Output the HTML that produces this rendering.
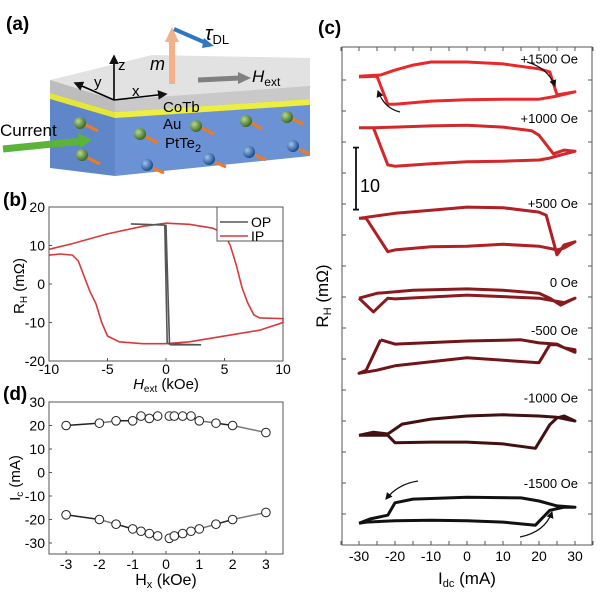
<!DOCTYPE html>
<html><head><meta charset="utf-8"><style>
body{margin:0;background:#fff;}
svg{display:block;font-family:"Liberation Sans",Arial,sans-serif;}
</style></head><body>
<svg id="fig" width="600" height="594" viewBox="0 0 600 594">
<defs>
<marker id="ah" markerWidth="6" markerHeight="6" refX="5" refY="3" orient="auto"><path d="M0,0 L6,3 L0,6 Z" fill="#111"/></marker>
<radialGradient id="gball" cx="35%" cy="35%" r="65%"><stop offset="0" stop-color="#b8d890"/><stop offset="1" stop-color="#3e6a22"/></radialGradient>
<radialGradient id="bball" cx="35%" cy="35%" r="65%"><stop offset="0" stop-color="#9ec4ef"/><stop offset="1" stop-color="#1d4d8c"/></radialGradient>
</defs>

<!-- Panel (a) -->
<g>
<text x="6" y="30" font-size="19" font-weight="bold">(a)</text>
<polygon points="50,80 115,100 115,176 50,168" fill="#5f86c9"/>
<polygon points="115,100 310,86 310,156 115,176" fill="#6b92d4"/>
<polygon points="50,80 115,100 115,112 50,93" fill="#bdbdbd"/>
<polygon points="115,100 310,86 310,99 115,112" fill="#c9c9c9"/>
<polygon points="50,93 115,112 115,118 50,99" fill="#e6e63a"/>
<polygon points="115,112 310,99 310,105 115,118" fill="#eeee40"/>
<polygon points="50,80 152,55 310,58 310,86 115,100" fill="#e2e2e2"/>
<g>
<circle cx="80" cy="123" r="6" fill="url(#gball)"/><circle cx="140" cy="134" r="6" fill="url(#gball)"/><circle cx="196" cy="126" r="6" fill="url(#gball)"/><circle cx="246" cy="121" r="6" fill="url(#gball)"/><circle cx="287" cy="117" r="6" fill="url(#gball)"/><circle cx="82" cy="155" r="6" fill="url(#gball)"/>
<circle cx="147" cy="165" r="6" fill="url(#bball)"/><circle cx="209" cy="159" r="6" fill="url(#bball)"/><circle cx="249" cy="152" r="6" fill="url(#bball)"/><circle cx="293" cy="146" r="6" fill="url(#bball)"/>
<g stroke="#f07a20" stroke-width="3"><line x1="86" y1="125" x2="98" y2="131"/><line x1="146" y1="137" x2="158" y2="143"/><line x1="202" y1="128" x2="214" y2="134"/><line x1="252" y1="123" x2="262" y2="129"/><line x1="293" y1="119" x2="303" y2="124"/><line x1="88" y1="158" x2="100" y2="164"/><line x1="153" y1="168" x2="164" y2="173"/><line x1="215" y1="162" x2="226" y2="167"/><line x1="255" y1="155" x2="266" y2="160"/><line x1="299" y1="149" x2="309" y2="154"/></g>
</g>
<line x1="3" y1="149" x2="82" y2="141" stroke="#5cb33a" stroke-width="7"/>
<polygon points="78,133 92,140 80,148" fill="#5cb33a"/>
<text x="0" y="136" font-size="17">Current</text>
<text x="163" y="112" font-size="15">CoTb</text>
<text x="163" y="129" font-size="15">Au</text>
<text x="165" y="148" font-size="15">PtTe<tspan font-size="11" dy="4">2</tspan></text>
<g stroke="#000" stroke-width="1.6" fill="none">
<line x1="114" y1="100" x2="114" y2="56" marker-end="url(#ah)"/>
<line x1="114" y1="100" x2="75" y2="83" marker-end="url(#ah)"/>
<line x1="114" y1="100" x2="166" y2="94" marker-end="url(#ah)"/>
</g>
<text x="118" y="70" font-size="15">z</text><text x="94" y="87" font-size="15">y</text><text x="132" y="96" font-size="15">x</text>
<text x="150" y="70" font-size="18" font-style="italic">m</text>
<line x1="172" y1="84" x2="172" y2="40" stroke="#f4b08a" stroke-width="6"/>
<polygon points="165,42 172,27 179,42" fill="#f4b08a"/>
<line x1="174" y1="29" x2="206" y2="43" stroke="#2f77c3" stroke-width="4"/>
<polygon points="204,38 214,46 202,48" fill="#2f77c3"/>
<text x="205" y="40" font-size="20" font-style="italic">τ<tspan font-size="13" font-style="normal" dy="4">DL</tspan></text>
<line x1="198" y1="80" x2="240" y2="78" stroke="#808080" stroke-width="5"/>
<polygon points="238,72 251,78 238,84" fill="#808080"/>
<text x="252" y="82" font-size="17" font-style="italic">H<tspan font-size="12" font-style="normal" dy="4">ext</tspan></text>
</g>

<text x="3" y="206" font-size="19" font-weight="bold">(b)</text>
<g id="pb"></g>
<text x="3" y="400" font-size="19" font-weight="bold">(d)</text>
<g id="pd"></g>
<text x="318" y="34" font-size="19" font-weight="bold">(c)</text>
<g id="pc"></g>
</svg>
<script>
// ---------- Panel (b) data ----------
const ipH = [-10,-8,-5,-2,0,2,4,5,5.5,6,6.5,7,7.5,8,10,10,8,6,4,2,0,-2,-4,-5,-5.5,-6,-6.5,-7,-7.5,-8,-9,-10];
const ipR = [9,10.5,13,15,15.8,15.5,14.5,13,10,5,-1,-5,-8,-8.8,-9,-10,-12,-13,-14,-15,-15.5,-15.5,-15,-13.5,-10,-5,-2,2,6,7.5,7.8,7.5];
const opH = [-3,-0.2,0,0.3,3,0.4,0.1,-0.1];
const opR = [15.6,15.3,15.2,-15.6,-15.8,-15.8,-15.3,15.3];
const bTicksX = [-10,-5,0,5,10];
const bTicksY = [-20,-10,0,10,20];
// ---------- Panel (d) data ----------
const dH = [-3,-2,-1.5,-1,-0.75,-0.5,-0.25,0.1,0.25,0.5,0.75,1,1.5,2,3];
const dUpper = [20,21,22,22,24,23,24,24,24,24,24,22,21,20,17];
const dLower = [-18,-20,-22,-24,-25,-26,-27,-28,-27,-26,-25,-24,-22,-20,-17];
const dTicksX = [-3,-2,-1,0,1,2,3];
const dTicksY = [-30,-20,-10,0,10,20,30];
// ---------- Panel (c) data ----------
const p1500I = [-30,-24,-20,-15,-10,0,10,20,23,25,30,25,20,10,0,-10,-20,-22,-25,-30];
const p1500R = [75.6,75.8,76.6,77.4,77.9,77.9,77.6,76.8,76.3,72.6,73.1,72.4,71.9,71.9,71.8,71.6,71.1,71.1,75.6,75.5];
const p1000I = [-30,-26,-20,-10,0,10,18,20,24,27,30,26,23,20,10,0,-10,-20,-22,-26];
const p1000R = [67.3,67.3,67.4,67.6,67.7,67.4,66.8,66.1,63.1,63.7,63.5,62.9,62.4,62.1,61.9,61.8,61.5,61.1,61.3,67.3];
const p500I = [-30,-20,-10,0,10,20,22,25,27,30,27,25,20,10,0,-10,-20,-22,-28,-30];
const p500R = [52.7,53.5,54.0,54.5,54.4,53.7,53.2,46.8,48.4,48.9,47.9,47.6,48.2,48.5,48.2,48.1,47.6,47.3,52.7,52.7];
const p0I = [-30,-25,-15,0,10,20,23,26,30,27,20,0,-20,-22,-26,-30];
const p0R = [39.8,40.6,41.1,41.3,41.1,40.6,39.8,38.7,39.8,39.1,39.8,40.3,39.7,39.8,37.6,39.8];
const m500I = [-24,-20,0,15,20,25,27,30,30,25,23,20,0,-20,-25,-30,-28,-24];
const m500R = [33.1,32.4,32.9,33.1,32.6,32.4,31.8,31.5,31.1,32.3,32.3,29.4,30.2,28.9,28.2,27.7,28.2,33.1];
const m1000I = [-30,-26,-22,-18,-10,0,10,20,25,30,27,25,23,19,10,0,-10,-20,-22,-30];
const m1000R = [17.7,18.2,17.9,19.5,20.3,20.8,21.0,20.8,20.6,20.0,20.8,20.5,19.4,15.6,16.3,16.6,16.6,16.5,17.7,17.7];
const m1500I = [-30,-27,-22,-20,-15,0,15,20,25,30,27,23,19,10,0,-10,-20,-28,-30];
const m1500R = [3.5,4.2,4.8,6.8,7.4,7.7,7.6,7.1,6.3,6.1,6.1,5.6,3.2,3.7,3.9,4.0,3.9,3.7,3.5];
const cLabels = ["+1500 Oe","+1000 Oe","+500 Oe","0 Oe","-500 Oe","-1000 Oe","-1500 Oe"];
const cLabelR = [78.5,68.9,55.2,42.4,34.7,23.8,10.0];
const cTicksX = [-30,-20,-10,0,10,20,30];

const NS="http://www.w3.org/2000/svg";
function mk(parent,tag,attrs,text){const e=document.createElementNS(NS,tag);for(const k in attrs)e.setAttribute(k,attrs[k]);if(text!==undefined)e.textContent=text;parent.appendChild(e);return e;}
function pts(xs,ys,fx,fy){return xs.map((v,i)=>fx(v).toFixed(1)+","+fy(ys[i]).toFixed(1)).join(" ");}

// ===== Panel b =====
(function(){
const g=document.getElementById('pb');
const L=49,R=283,T=207,B=361;
const xb=h=>166+h*11.7, yb=r=>284-r*3.85;
let f=mk(g,'rect',{x:L,y:T,width:R-L,height:B-T,fill:'none',stroke:'#555','stroke-width':1});


bTicksX.forEach(t=>{mk(g,'line',{x1:xb(t),x2:xb(t),y1:B,y2:B-3,stroke:'#555'});
 let tx=mk(g,'text',{x:xb(t),y:B+13,'font-size':14,'text-anchor':'middle'},t);
 
 });
bTicksY.forEach(t=>{mk(g,'line',{x1:L,x2:L+3,y1:yb(t),y2:yb(t),stroke:'#555'});
 let tx=mk(g,'text',{x:L-4,y:yb(t)+5,'font-size':14,'text-anchor':'end'},t);
 
 });
let ip=mk(g,'polyline',{points:pts(ipH,ipR,xb,yb),fill:'none',stroke:'#d9393b','stroke-width':1.6});


let op=mk(g,'polyline',{points:pts(opH,opR,xb,yb),fill:'none',stroke:'#555','stroke-width':1.6});


let lg=mk(g,'g',{});


mk(lg,'rect',{x:217,y:207,width:66,height:34,fill:'#fff',stroke:'#555'});
mk(lg,'line',{x1:220,x2:248,y1:222,y2:222,stroke:'#555','stroke-width':1.6});
mk(lg,'text',{x:251,y:227,'font-size':14},'OP');
mk(lg,'line',{x1:220,x2:248,y1:236,y2:236,stroke:'#d9393b','stroke-width':1.6});
mk(lg,'text',{x:251,y:241,'font-size':14},'IP');
let yl=mk(g,'text',{transform:'translate(24,286) rotate(-90)','font-size':15,'text-anchor':'middle'});
yl.innerHTML='R<tspan font-size="10" dy="3">H</tspan><tspan dy="-3"> (mΩ)</tspan>';


let xl=mk(g,'text',{x:166,y:389,'font-size':15,'text-anchor':'middle'});
xl.innerHTML='<tspan font-style="italic">H</tspan><tspan font-size="10" dy="3">ext</tspan><tspan dy="-3"> (kOe)</tspan>';


})();

// ===== Panel d =====
(function(){
const g=document.getElementById('pd');
const L=49,R=283,T=402,B=554;
const xd=h=>166+h*33.3, yd=v=>402+(30-v)*2.35;
let f=mk(g,'rect',{x:L,y:T,width:R-L,height:B-T,fill:'none',stroke:'#555'});


dTicksX.forEach(t=>{mk(g,'line',{x1:xd(t),x2:xd(t),y1:B,y2:B-3,stroke:'#555'});
 let tx=mk(g,'text',{x:xd(t),y:B+15,'font-size':14,'text-anchor':'middle'},t);
 
 });
dTicksY.forEach(t=>{mk(g,'line',{x1:L,x2:L+3,y1:yd(t),y2:yd(t),stroke:'#555'});
 let tx=mk(g,'text',{x:L-4,y:yd(t)+5,'font-size':14,'text-anchor':'end'},t);
 
 });
[dUpper,dLower].forEach(arr=>{
 for(let i=0;i<dH.length-1;i++){ if(dH[i]<0&&dH[i+1]>0) continue;
  let ln=mk(g,'line',{x1:xd(dH[i]),y1:yd(arr[i]),x2:xd(dH[i+1]),y2:yd(arr[i+1]),stroke:i%2?'#777':'#222','stroke-width':1.5});
  
  }
 dH.forEach((h,i)=>{let c=mk(g,'circle',{cx:xd(h),cy:yd(arr[i]),r:4.3,fill:'#fff',stroke:'#222','stroke-width':1});
  
  });
});
let yl=mk(g,'text',{transform:'translate(20,478) rotate(-90)','font-size':15,'text-anchor':'middle'});
yl.innerHTML='I<tspan font-size="10" dy="3">c</tspan><tspan dy="-3"> (mA)</tspan>';


let xl=mk(g,'text',{x:166,y:585,'font-size':16,'text-anchor':'middle'});
xl.innerHTML='H<tspan font-size="11" dy="3">x</tspan><tspan dy="-3"> (kOe)</tspan>';


})();

// ===== Panel c =====
(function(){
const g=document.getElementById('pc');
const L=342,R=592,T=47,B=545;
const xs=i=>467+i*3.6, ys=r=>545-r*6.2;
let f=mk(g,'rect',{x:L,y:T,width:R-L,height:B-T,fill:'none',stroke:'#555'});


for(let t=-35;t<=35;t+=5){mk(g,'line',{x1:xs(t),x2:xs(t),y1:T,y2:T+4,stroke:'#555'});mk(g,'line',{x1:xs(t),x2:xs(t),y1:B,y2:B-4,stroke:'#555'});}
for(let r=5;r<=75;r+=5){mk(g,'line',{x1:L,x2:L+4,y1:ys(r),y2:ys(r),stroke:'#555'});mk(g,'line',{x1:R,x2:R-4,y1:ys(r),y2:ys(r),stroke:'#555'});}
cTicksX.forEach(t=>{let tx=mk(g,'text',{x:xs(t),y:561,'font-size':14,'text-anchor':'middle'},t);
 
 });
const loops=[[p1500I,p1500R,'#e8282b'],[p1000I,p1000R,'#d2282b'],[p500I,p500R,'#b01f24'],[p0I,p0R,'#8a1a1e'],[m500I,m500R,'#731518'],[m1000I,m1000R,'#431012'],[m1500I,m1500R,'#111']];
loops.forEach((lp,k)=>{let pl=mk(g,'polyline',{points:pts(lp[0],lp[1],xs,ys),fill:'none',stroke:lp[2],'stroke-width':3,'stroke-linejoin':'round'});
 
 });
cLabels.forEach((s,k)=>{let tx=mk(g,'text',{x:578,y:ys(cLabelR[k])+5,'font-size':13,'text-anchor':'end'},s);
 
 });
let sb=mk(g,'g',{stroke:'#111','stroke-width':1.8});


mk(sb,'line',{x1:356,x2:356,y1:ys(64.1),y2:ys(54.1)});
mk(sb,'line',{x1:353,x2:359,y1:ys(64.1),y2:ys(64.1)});
mk(sb,'line',{x1:353,x2:359,y1:ys(54.1),y2:ys(54.1)});
mk(g,'text',{x:360,y:192,'font-size':18},'10');
[[527,62,557,88,"M527,62 Q548,68 555,86"],[400,112,378,90,"M400,112 Q384,108 378,91"],[418,481,385,500,"M418,481 Q398,484 386,499"],[520,537,553,511,"M520,537 Q545,532 552,512"]].forEach(a=>{
 let p=mk(g,'path',{d:a[4],fill:'none',stroke:'#111','stroke-width':1.2,'marker-end':'url(#ah)'});
 
 });
let yl=mk(g,'text',{transform:'translate(328,296) rotate(-90)','font-size':17,'text-anchor':'middle'});
yl.innerHTML='R<tspan font-size="11" dy="3">H</tspan><tspan dy="-3"> (mΩ)</tspan>';


let xl=mk(g,'text',{x:467,y:584,'font-size':17,'text-anchor':'middle'});
xl.innerHTML='I<tspan font-size="11" dy="3">dc</tspan><tspan dy="-3"> (mA)</tspan>';


})();
</script>
</body></html>
